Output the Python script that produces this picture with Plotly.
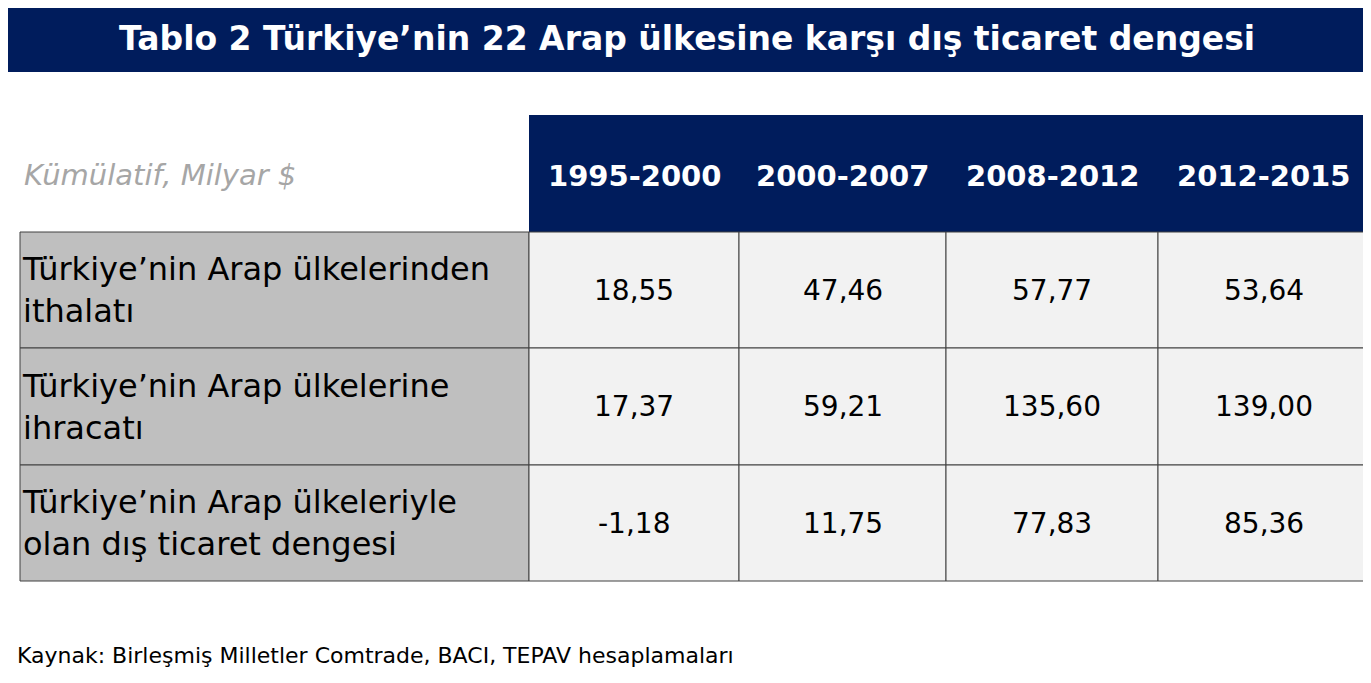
import plotly.graph_objects as go

title = "Tablo 2 Türkiye’nin 22 Arap ülkesine karşı dış ticaret dengesi"
unit_label = "Kümülatif, Milyar $"
periods = ["1995-2000", "2000-2007", "2008-2012", "2012-2015"]
row_labels = ["Türkiye’nin Arap ülkelerinden<br>ithalatı",
              "Türkiye’nin Arap ülkelerine<br>ihracatı",
              "Türkiye’nin Arap ülkeleriyle<br>olan dış ticaret dengesi"]
values = [["18,55", "47,46", "57,77", "53,64"],
          ["17,37", "59,21", "135,60", "139,00"],
          ["-1,18", "11,75", "77,83", "85,36"]]
source = "Kaynak: Birleşmiş Milletler Comtrade, BACI, TEPAV hesaplamaları"

W, H = 1371, 683
OFF = 8
NAVY = "#001c5c"
col_edges = [20, 529, 739, 946, 1158, 1369]
row_edges = [115, 232, 348, 465, 581]
FONT = "DejaVu Sans"

fig = go.Figure()
shapes, ann = [], []
shapes.append(dict(type="rect", x0=-10, x1=W + 10, y0=-10, y1=72, fillcolor=NAVY, line_width=0, layer="below"))
ann.append(dict(x=W/2 + 1, y=38, text="<b>%s</b>" % title, showarrow=False,
                font=dict(color="white", size=33, family=FONT)))
shapes.append(dict(type="rect", x0=col_edges[1], x1=col_edges[-1], y0=row_edges[0], y1=row_edges[1],
                   fillcolor=NAVY, line_width=0, layer="below"))
ann.append(dict(x=22, y=175, text="<i>%s</i>" % unit_label, showarrow=False, xanchor="left",
                font=dict(color="#a6a6a6", size=29, family=FONT)))
for j, p in enumerate(periods):
    ann.append(dict(x=(col_edges[j+1]+col_edges[j+2])/2, y=176, text="<b>%s</b>" % p, showarrow=False,
                    font=dict(color="white", size=29, family=FONT)))
for i, lab in enumerate(row_labels):
    y0, y1 = row_edges[i+1], row_edges[i+2]
    shapes.append(dict(type="rect", x0=col_edges[0], x1=col_edges[1], y0=y0, y1=y1,
                       fillcolor="#bfbfbf", line=dict(color="#404040", width=1), layer="below"))
    ann.append(dict(x=20, y=(y0+y1)/2, text=lab, showarrow=False, xanchor="left", align="left",
                    font=dict(color="black", size=32, family=FONT)))
    for j, v in enumerate(values[i]):
        shapes.append(dict(type="rect", x0=col_edges[j+1], x1=col_edges[j+2], y0=y0, y1=y1,
                           fillcolor="#f2f2f2", line=dict(color="#404040", width=1), layer="below"))
        ann.append(dict(x=(col_edges[j+1]+col_edges[j+2])/2, y=(y0+y1)/2, text=v, showarrow=False,
                        font=dict(color="black", size=28, family=FONT)))
ann.append(dict(x=15, y=655, text=source, showarrow=False, xanchor="left",
                font=dict(color="black", size=22, family=FONT)))

fig.update_layout(width=W - 2*OFF, height=H - 2*OFF, margin=dict(l=0, r=0, t=0, b=0),
                  paper_bgcolor="white", plot_bgcolor="white", shapes=shapes, annotations=ann,
                  xaxis=dict(range=[OFF, W - OFF], visible=False, fixedrange=True),
                  yaxis=dict(range=[H - OFF, OFF], visible=False, fixedrange=True), showlegend=False)
fig.write_html("out.html")
